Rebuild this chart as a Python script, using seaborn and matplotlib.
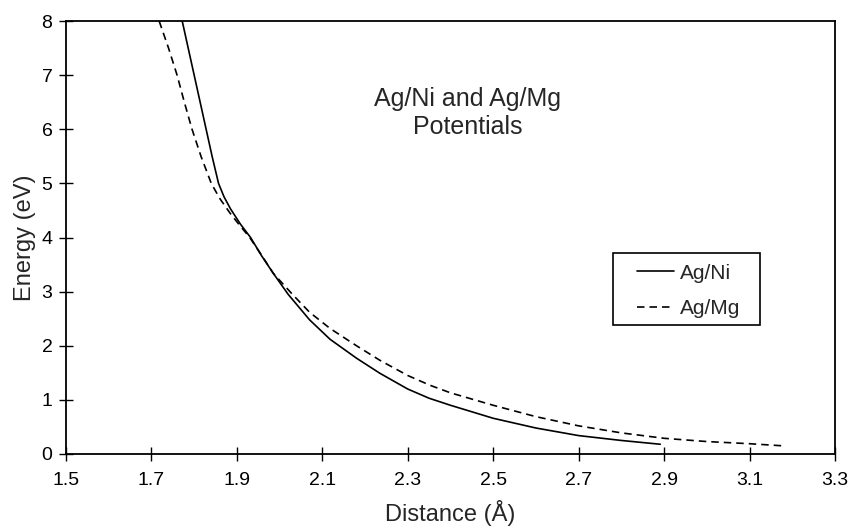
import matplotlib
matplotlib.use("Agg")
import matplotlib.pyplot as plt
from matplotlib.patches import Rectangle
import seaborn as sns
import pandas as pd

# Data
ni_x = [1.772, 1.786, 1.800, 1.814, 1.828, 1.842, 1.857, 1.870, 1.885, 1.908, 1.932,
        1.958, 1.985, 2.02, 2.07, 2.118, 2.18, 2.235, 2.30, 2.35, 2.40,
        2.50, 2.60, 2.70, 2.80, 2.891]
ni_y = [8.0, 7.5, 7.0, 6.5, 6.0, 5.5, 5.0, 4.75, 4.53, 4.25, 4.0,
        3.66, 3.34, 2.95, 2.48, 2.12, 1.77, 1.49, 1.20, 1.03, 0.90,
        0.66, 0.48, 0.34, 0.25, 0.18]
mg_x = [1.718, 1.740, 1.760, 1.777, 1.795, 1.816, 1.840, 1.860, 1.884, 1.907, 1.930,
        1.958, 1.985, 2.03, 2.07, 2.118, 2.18, 2.235, 2.30, 2.352, 2.40,
        2.50, 2.60, 2.70, 2.80, 2.90, 3.00, 3.10, 3.18]
mg_y = [8.0, 7.5, 7.0, 6.5, 6.0, 5.5, 5.0, 4.72, 4.45, 4.22, 4.0,
        3.67, 3.34, 2.95, 2.62, 2.32, 2.0, 1.73, 1.45, 1.27, 1.13,
        0.90, 0.69, 0.52, 0.39, 0.29, 0.23, 0.19, 0.15]
series_names = ["Ag/Ni", "Ag/Mg"]
x_ticks = [1.5, 1.7, 1.9, 2.1, 2.3, 2.5, 2.7, 2.9, 3.1, 3.3]
y_ticks = [0, 1, 2, 3, 4, 5, 6, 7, 8]

df = pd.concat([
    pd.DataFrame({"Distance": ni_x, "Energy": ni_y, "Potential": series_names[0]}),
    pd.DataFrame({"Distance": mg_x, "Energy": mg_y, "Potential": series_names[1]}),
], ignore_index=True)

sns.set_style("ticks")
plt.rcParams["font.family"] = ["Liberation Sans", "DejaVu Sans"]

fig = plt.figure(figsize=(8.53, 5.32), dpi=100)
ax = fig.add_axes([66 / 853, 1 - 454 / 532, (835 - 66) / 853, (454 - 21) / 532])

sns.lineplot(data=df, x="Distance", y="Energy", hue="Potential", style="Potential",
             palette={"Ag/Ni": "black", "Ag/Mg": "black"},
             dashes={"Ag/Ni": "", "Ag/Mg": (4.5, 3)},
             hue_order=series_names, style_order=series_names,
             linewidth=1.2, ax=ax, legend=True)

ax.set_xlim(1.5, 3.3)
ax.set_ylim(0, 8)
ax.set_xticks(x_ticks)
ax.set_xticklabels([f"{t:.1f}" for t in x_ticks])
ax.set_yticks(y_ticks)
ax.tick_params(direction="inout", length=9.5, width=1.0, labelsize=14, colors="black")
ax.tick_params(axis="x", pad=8)
ax.tick_params(axis="y", pad=5)
for s in ax.spines.values():
    s.set_visible(True)
    s.set_linewidth(1.3)
    s.set_color("black")

ax.set_xlabel("Distance (Å)", fontsize=17, labelpad=8)
ax.set_ylabel("Energy (eV)", fontsize=17, labelpad=4)

ax.text(2.44, 6.3, "Ag/Ni and Ag/Mg\nPotentials", ha="center", va="center",
        fontsize=18, linespacing=1.2)

leg = ax.legend(loc="upper left", bbox_to_anchor=(0.7425, 0.4397), fontsize=15,
                frameon=False, handlelength=1.8, handletextpad=0.25,
                labelspacing=0.78, borderpad=0, borderaxespad=0)
ax.add_patch(Rectangle((0.711, 0.298), 0.191, 0.166, transform=ax.transAxes,
                       fill=False, edgecolor="black", linewidth=1.2, zorder=5))

fig.savefig("out.png", dpi=100)
